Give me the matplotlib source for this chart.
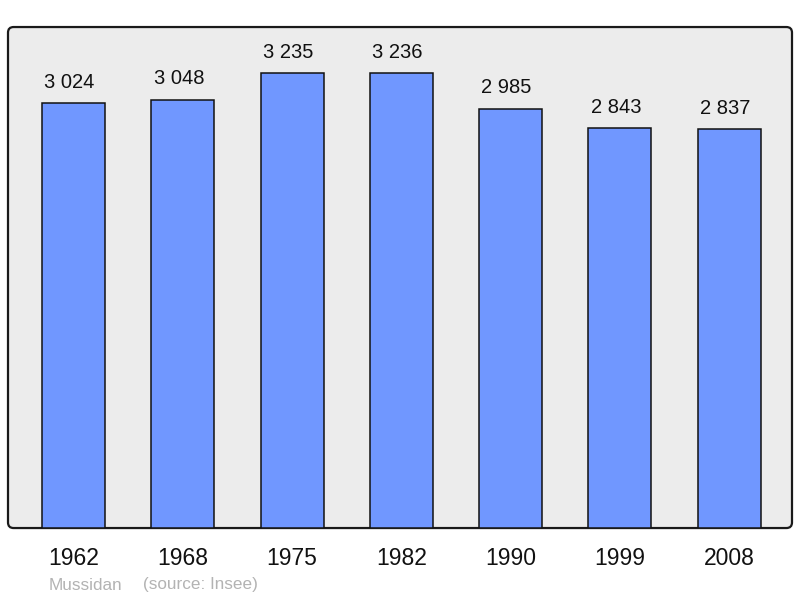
import matplotlib
matplotlib.use('Agg')
import matplotlib.pyplot as plt
from matplotlib.patches import FancyBboxPatch

years = ['1962', '1968', '1975', '1982', '1990', '1999', '2008']
population = [3024, 3048, 3235, 3236, 2985, 2843, 2837]
value_labels = ['3 024', '3 048', '3 235', '3 236', '2 985', '2 843', '2 837']
commune = 'Mussidan'
source = '(source: Insee)'

plt.rcParams['font.family'] = ['Liberation Sans', 'DejaVu Sans']

fig = plt.figure(figsize=(8, 5.98), dpi=100)
ax = fig.add_axes([0.01, 0.117, 0.98, 0.8378])
ax.set_facecolor('none')

# rounded frame behind the bars
frame = FancyBboxPatch((0.01, 0.117), 0.98, 0.8378,
                       boxstyle='round,pad=0,rounding_size=0.007',
                       mutation_aspect=800/598,
                       transform=fig.transFigure,
                       facecolor='#ececec', edgecolor='#1a1a1a',
                       linewidth=1.6, zorder=0, clip_on=False)
ax.add_patch(frame)

x = list(range(len(years)))
ax.bar(x, population, width=0.576, color='#7097ff', edgecolor='#111111',
       linewidth=1.1, zorder=2)
for xi, v, lab in zip(x, population, value_labels):
    ax.annotate(lab, (xi, v), xytext=(-4, 21), textcoords='offset pixels',
                ha='center', va='center', fontsize=14.5, color='#111111')

ax.set_xlim(-0.599, 6.574)
ax.set_ylim(0, 3565)
for s in ax.spines.values():
    s.set_visible(False)
ax.set_yticks([])
ax.set_xticks(x)
ax.set_xticklabels(years, fontsize=16.5, color='#111111')
ax.tick_params(axis='x', length=0, pad=14)

fig.text(49/800, 1 - 585/598, commune, fontsize=12.3, color='#b3b3b3',
         ha='left', va='center')
fig.text(143/800, 1 - 585/598, source, fontsize=12.3, color='#b3b3b3',
         ha='left', va='center')

fig.savefig('out.png', dpi=100)
